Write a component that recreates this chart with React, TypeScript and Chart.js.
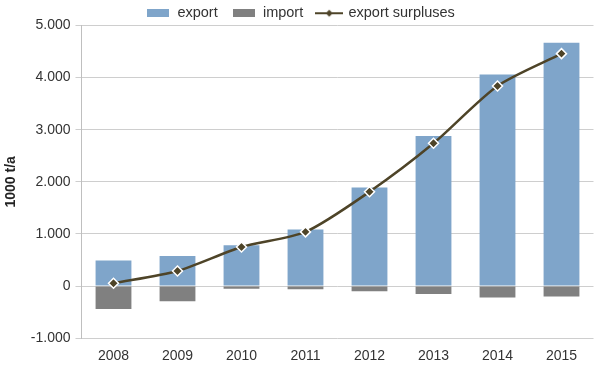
import React, { useEffect, useRef } from "react";
import { Chart, registerables } from "chart.js";

Chart.register(...registerables);

const years = ["2008", "2009", "2010", "2011", "2012", "2013", "2014", "2015"];
const exportValues = [490, 575, 785, 1085, 1890, 2880, 4060, 4670];
const importValues = [-440, -290, -50, -60, -100, -150, -220, -200];
const surplusValues = [55, 290, 750, 1040, 1810, 2740, 3840, 4460];
const yTicks = [-1000, 0, 1000, 2000, 3000, 4000, 5000];

const EXPORT_COLOR = "#7fa5ca";
const IMPORT_COLOR = "#808080";
const LINE_COLOR = "#4e4428";
const FONT = "Liberation Sans, Arial, sans-serif";

function fmt(v: number): string {
  const s = Math.abs(v).toString();
  const withDots = s.replace(/\B(?=(\d{3})+(?!\d))/g, ".");
  return (v < 0 ? "-" : "") + withDots;
}

function makeRectIcon(color: string): HTMLCanvasElement {
  const c = document.createElement("canvas");
  c.width = 22;
  c.height = 8;
  const ctx = c.getContext("2d")!;
  ctx.fillStyle = color;
  ctx.fillRect(0, 0, 22, 8);
  return c;
}

function makeLineIcon(): HTMLCanvasElement {
  const c = document.createElement("canvas");
  c.width = 28;
  c.height = 10;
  const ctx = c.getContext("2d")!;
  ctx.strokeStyle = LINE_COLOR;
  ctx.lineWidth = 2;
  ctx.beginPath();
  ctx.moveTo(0, 5);
  ctx.lineTo(28, 5);
  ctx.stroke();
  ctx.fillStyle = LINE_COLOR;
  ctx.beginPath();
  ctx.moveTo(14, 1.5);
  ctx.lineTo(17.5, 5);
  ctx.lineTo(14, 8.5);
  ctx.lineTo(10.5, 5);
  ctx.closePath();
  ctx.fill();
  return c;
}

const legendShrink = {
  id: "legendShrink",
  afterInit(chart: any) {
    const lg = chart.legend;
    if (!lg) return;
    const orig = lg.fit.bind(lg);
    lg.fit = function () {
      orig();
      this.height -= 5;
    };
  },
};

export default function App() {
  const ref = useRef<HTMLCanvasElement | null>(null);

  useEffect(() => {
    document.body.style.margin = "0";
    if (!ref.current) return;
    const icons = [makeRectIcon(EXPORT_COLOR), makeRectIcon(IMPORT_COLOR), makeLineIcon()];
    const chart = new Chart(ref.current, {
      type: "bar",
      plugins: [legendShrink],
      data: {
        labels: years,
        datasets: [
          {
            type: "line",
            label: "export surpluses",
            data: surplusValues,
            borderColor: LINE_COLOR,
            backgroundColor: LINE_COLOR,
            borderWidth: 2.5,
            tension: 0.25,
            pointStyle: "rectRot",
            pointRadius: 5,
            pointBackgroundColor: LINE_COLOR,
            pointBorderColor: "#ffffff",
            pointBorderWidth: 1.5,
            order: 0,
          } as any,
          {
            type: "bar",
            label: "export",
            data: exportValues,
            backgroundColor: EXPORT_COLOR,
            categoryPercentage: 1,
            barPercentage: 0.56,
            order: 1,
          },
          {
            type: "bar",
            label: "import",
            data: importValues,
            backgroundColor: IMPORT_COLOR,
            categoryPercentage: 1,
            barPercentage: 0.56,
            order: 2,
          },
        ],
      },
      options: {
        animation: false,
        responsive: false,
        layout: { padding: { left: 3, right: 2, top: -8, bottom: 5 } },
        plugins: {
          tooltip: { enabled: false },
          legend: {
            position: "top",
            labels: {
              usePointStyle: true,
              pointStyleWidth: 24,
              boxHeight: 10,
              padding: 14,
              color: "#333333",
              font: { family: FONT, size: 14.5 },
              generateLabels: () => {
                const names = ["export", "import", "export surpluses"];
                const idx = [1, 2, 0];
                return names.map((n, i) => ({
                  text: n,
                  pointStyle: icons[i],
                  fillStyle: "transparent",
                  strokeStyle: "transparent",
                  lineWidth: 0,
                  datasetIndex: idx[i],
                  hidden: false,
                  fontColor: "#333333",
                }));
              },
            },
          },
        },
        scales: {
          x: {
            stacked: true,
            grid: { display: false },
            border: { display: false },
            ticks: {
              color: "#333333",
              font: { family: FONT, size: 14 },
              padding: 2,
            },
          },
          y: {
            min: -1000,
            max: 5000,
            afterBuildTicks: (axis: any) => {
              axis.ticks = yTicks.map((v) => ({ value: v }));
            },
            grid: { color: "#cecece", lineWidth: 1, drawTicks: true, tickLength: 6 },
            border: { display: true, color: "#bfbfbf" },
            ticks: {
              color: "#333333",
              font: { family: FONT, size: 14 },
              padding: 5,
              callback: (v: any) => fmt(Number(v)),
            },
            title: {
              display: true,
              text: "1000 t/a",
              color: "#222222",
              font: { family: FONT, size: 14, weight: "bold" },
              padding: { top: 0, bottom: 6 },
            },
          },
        },
      },
    });
    return () => chart.destroy();
  }, []);

  return (
    <div style={{ width: 600, height: 372 }}>
      <canvas ref={ref} width={600} height={372} style={{ display: "block" }} />
    </div>
  );
}
